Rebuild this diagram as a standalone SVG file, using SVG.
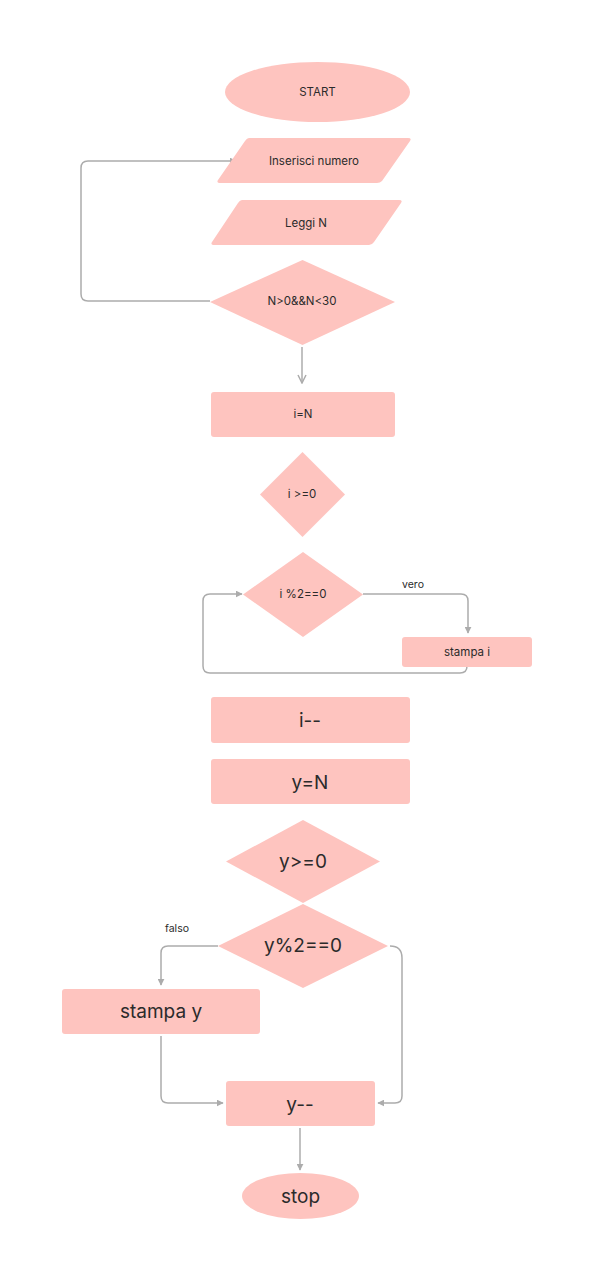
<svg xmlns="http://www.w3.org/2000/svg" width="594" height="1280" viewBox="0 0 594 1280">
<style>
.n{fill:#fec4bf;}
.t{font-family:Inter,"Noto Sans",sans-serif;fill:#2b2b2b;text-anchor:middle;dominant-baseline:central;}
.s{font-size:11.5px;}
.l{font-size:19px;}
.c{fill:none;stroke:#acacac;stroke-width:1.5;}
.lab{font-family:Inter,"Noto Sans",sans-serif;fill:#2b2b2b;font-size:10.5px;text-anchor:middle;dominant-baseline:central;}
</style>
<defs>
<marker id="a" viewBox="0 0 10 10" refX="9" refY="5" markerWidth="7" markerHeight="7" orient="auto" markerUnits="userSpaceOnUse">
<path d="M0,0 L10,5 L0,10 z" fill="#acacac"/>
</marker>
<marker id="v" viewBox="0 0 10 10" refX="9" refY="5" markerWidth="10" markerHeight="10" orient="auto" markerUnits="userSpaceOnUse">
<path d="M1,1 L9,5 L1,9" fill="none" stroke="#acacac" stroke-width="1.5"/>
</marker>
</defs>
<rect width="594" height="1280" fill="#ffffff"/>
<g id="connectors">
<path class="c" d="M210,301 H88 Q81,301 81,294 V168 Q81,161 88,161 H236" marker-end="url(#a)"/>
<path class="c" d="M302,347 V383" marker-end="url(#v)"/>
<path class="c" d="M363,594 H461 Q468,594 468,601 V633" marker-end="url(#a)"/>
<path class="c" d="M467,666 Q467,673 460,673 H210 Q203,673 203,666 V601 Q203,594 210,594 H242" marker-end="url(#a)"/>
<path class="c" d="M218,946 H168 Q161,946 161,953 V985" marker-end="url(#a)"/>
<path class="c" d="M161,1036 V1096 Q161,1103 168,1103 H223" marker-end="url(#a)"/>
<path class="c" d="M390,946 Q402,946 402,958 V1096 Q402,1103 395,1103 H378" marker-end="url(#a)"/>
<path class="c" d="M300,1128 V1170" marker-end="url(#a)"/>
</g>
<g id="start"><ellipse class="n" cx="317.5" cy="92" rx="92.5" ry="30"/><text class="t s" x="317.5" y="92">START</text></g>
<g id="inserisci"><path class="n" d="M249,138 H408 Q412,138 410,141 L382,181 Q380,183 377,183 H221 Q216,183 218,180 L245,141 Q247,138 249,138 z"/><text class="t s" x="314" y="161">Inserisci numero</text></g>
<g id="leggi"><path class="n" d="M242,200 H399 Q403,200 401,203 L374,242 Q372,245 369,245 H215 Q210,245 212,242 L238,203 Q240,200 242,200 z"/><text class="t s" x="306" y="223">Leggi N</text></g>
<g id="cond1"><path class="n" d="M302.5,260 L395,302 L302.5,345 L210,302 z"/><text class="t s" x="302" y="301">N&gt;0&amp;&amp;N&lt;30</text></g>
<g id="iN"><rect class="n" x="211" y="392" width="184" height="45" rx="3"/><text class="t s" x="303" y="414">i=N</text></g>
<g id="cond2"><path class="n" d="M302.5,452 L345,494.5 L302.5,537 L260,494.5 z"/><text class="t s" x="302" y="494">i &gt;=0</text></g>
<g id="cond3"><path class="n" d="M303,552 L363,594.5 L303,637 L243,594.5 z"/><text class="t s" x="303" y="594">i %2==0</text></g>
<text class="lab" x="413" y="584">vero</text>
<g id="stampai"><rect class="n" x="402" y="637" width="130" height="30" rx="3"/><text class="t s" x="467" y="652">stampa i</text></g>
<g id="idec"><rect class="n" x="211" y="697" width="199" height="46" rx="3"/><text class="t l" x="310" y="720">i--</text></g>
<g id="yN"><rect class="n" x="211" y="759" width="199" height="45" rx="3"/><text class="t l" x="310" y="782">y=N</text></g>
<g id="cond4"><path class="n" d="M303,820 L380,861.5 L303,903 L226,861.5 z"/><text class="t l" x="303" y="861">y&gt;=0</text></g>
<g id="cond5"><path class="n" d="M303,904 L388,946 L303,988 L218,946 z"/><text class="t l" x="303" y="945">y%2==0</text></g>
<text class="lab" x="177" y="928">falso</text>
<g id="stampay"><rect class="n" x="62" y="989" width="198" height="45" rx="3"/><text class="t l" x="161" y="1011">stampa y</text></g>
<g id="ydec"><rect class="n" x="226" y="1081" width="149" height="45" rx="3"/><text class="t l" x="300" y="1104">y--</text></g>
<g id="stop"><ellipse class="n" cx="300.5" cy="1196" rx="58.5" ry="23"/><text class="t l" x="300.5" y="1196">stop</text></g>
</svg>
